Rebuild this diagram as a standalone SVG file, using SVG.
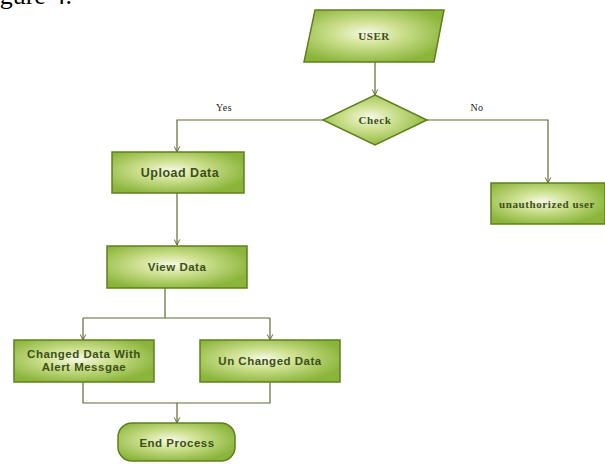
<svg xmlns="http://www.w3.org/2000/svg" width="605" height="464" viewBox="0 0 605 464">
<defs>
<radialGradient id="g" cx="0.45" cy="0.45" r="0.6">
<stop offset="0" stop-color="#f6f9e6"/>
<stop offset="0.4" stop-color="#cde08f"/>
<stop offset="1" stop-color="#8ab43a"/>
</radialGradient>
<marker id="a" viewBox="0 0 10 10" refX="9" refY="5" markerWidth="7" markerHeight="7" orient="auto" markerUnits="userSpaceOnUse">
<path d="M1,1 L9,5 L1,9" fill="none" stroke="#5a6e30" stroke-width="1.4"/>
</marker>
<style>
.n{fill:url(#g);stroke:#5e801e;stroke-width:1.5}
.c{fill:none;stroke:#5a6e30;stroke-width:1.2}
.ts{font-family:"Liberation Sans",Arial,sans-serif;font-weight:bold;font-size:11.5px;fill:#3c5016;text-anchor:middle;letter-spacing:0.5px}
.tr{font-family:"Liberation Serif","Times New Roman",serif;font-weight:bold;font-size:11px;fill:#3c5016;text-anchor:middle;letter-spacing:0.6px}
.lb{font-family:"Liberation Serif","Times New Roman",serif;font-size:10px;fill:#222;text-anchor:middle;letter-spacing:0.5px}
</style>
</defs>
<rect width="605" height="464" fill="#fff"/>
<text x="-22" y="4" font-family="'Liberation Serif','Times New Roman',serif" font-size="26" fill="#000">Figure 4.</text>
<g id="connectors">
<line class="c" x1="375" y1="62" x2="375" y2="95" marker-end="url(#a)"/>
<polyline class="c" points="323,120 177,120 177,152" marker-end="url(#a)"/>
<polyline class="c" points="427,120 548,120 548,183" marker-end="url(#a)"/>
<line class="c" x1="177" y1="193" x2="177" y2="245" marker-end="url(#a)"/>
<polyline class="c" points="165,288 165,318"/>
<polyline class="c" points="83,318 270,318"/>
<line class="c" x1="83" y1="318" x2="83" y2="340" marker-end="url(#a)"/>
<line class="c" x1="270" y1="318" x2="270" y2="340" marker-end="url(#a)"/>
<polyline class="c" points="83,382 83,403 270,403 270,382"/>
<line class="c" x1="177" y1="403" x2="177" y2="423" marker-end="url(#a)"/>
<text class="lb" x="224" y="111">Yes</text>
<text class="lb" x="477" y="111">No</text>
</g>
<g id="user">
<polygon class="n" points="315,10 444,10 434,62 304,62"/>
<text class="tr" x="374" y="40">USER</text>
</g>
<g id="check">
<polygon class="n" points="375,95 427,120 375,145 323,120"/>
<text class="tr" x="375" y="124">Check</text>
</g>
<g id="upload">
<rect class="n" x="112" y="152" width="132" height="41"/>
<text class="ts" x="180" y="177" style="font-size:12.5px">Upload Data</text>
</g>
<g id="unauthorized">
<rect class="n" x="491" y="183" width="114" height="41"/>
<text class="tr" x="547" y="208">unauthorized user</text>
</g>
<g id="view">
<rect class="n" x="107" y="246" width="140" height="42"/>
<text class="ts" x="177" y="271">View Data</text>
</g>
<g id="changed">
<rect class="n" x="14" y="340" width="140" height="42"/>
<text class="ts" x="84" y="358">Changed Data With</text>
<text class="ts" x="84" y="371">Alert Messgae</text>
</g>
<g id="unchanged">
<rect class="n" x="200" y="340" width="140" height="42"/>
<text class="ts" x="270" y="365">Un Changed Data</text>
</g>
<g id="end">
<rect class="n" x="118" y="423" width="117" height="38" rx="14" ry="14"/>
<text class="ts" x="177" y="447">End Process</text>
</g>
</svg>
